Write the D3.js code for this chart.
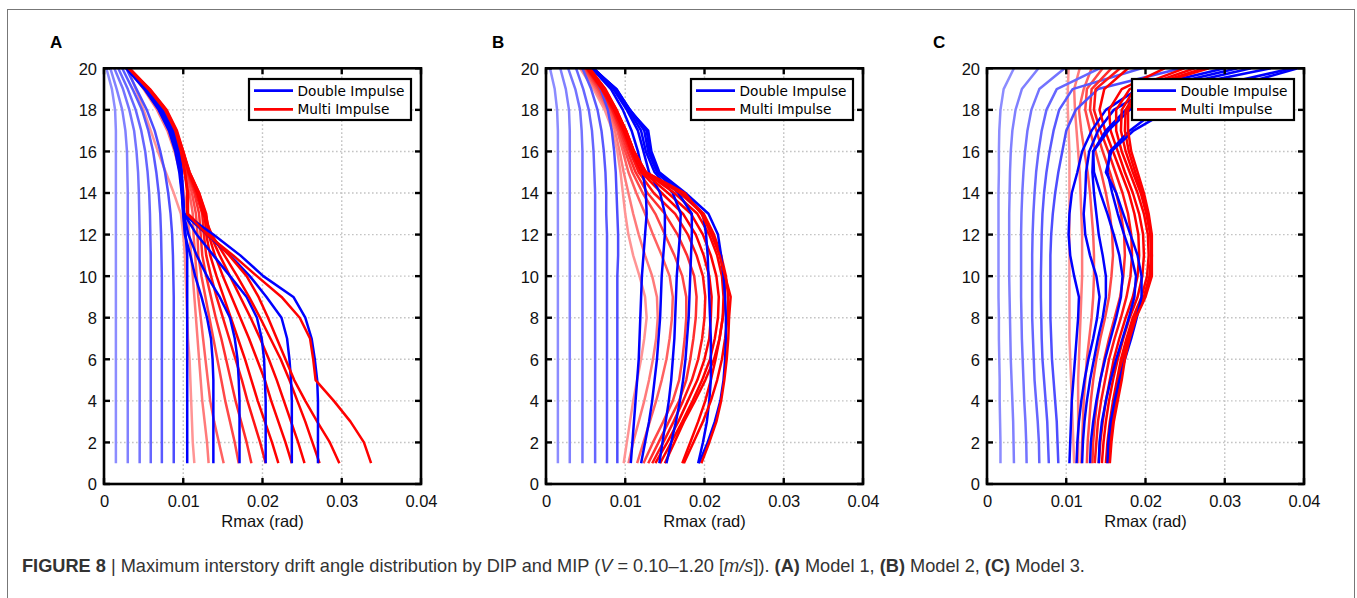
<!DOCTYPE html>
<html>
<head>
<meta charset="utf-8">
<script src="https://cdn.jsdelivr.net/npm/d3@7"></script>
<style>
  body { margin: 0; background: #fff; }
  svg { display: block; }
</style>
</head>
<body>
<svg width="1357" height="598"></svg>
<script>
// drift angles are kept in 1e-3 rad, one value per story (story 1 ... story 20)
const stories = d3.range(1, 21)
const velocities = ['0.10', '0.20', '0.30', '0.40', '0.50', '0.60', '0.70', '0.80', '0.90', '1.00', '1.10', '1.20']
const xTicks = [0, 0.01, 0.02, 0.03, 0.04]
const yTicks = [0, 2, 4, 6, 8, 10, 12, 14, 16, 18, 20]
const seriesNames = ['Double Impulse', 'Multi Impulse']
const panelLetters = ['A', 'B', 'C']

// Model 1
const dipA = [
  [1.5,1.5,1.5,1.5,1.5,1.5,1.5,1.5,1.5,1.5,1.5,1.5,1.5,1.5,1.5,1.5,1.5,1.4,1.0,0.3],
  [3.0,3.0,3.0,3.0,3.0,3.0,3.0,3.0,3.0,3.0,3.0,3.0,3.0,3.0,2.95,2.9,2.7,2.3,1.6,0.8],
  [4.5,4.5,4.5,4.5,4.5,4.5,4.5,4.5,4.5,4.5,4.5,4.5,4.45,4.4,4.3,4.1,3.8,3.2,2.4,1.3],
  [5.9,5.9,5.9,5.9,5.9,5.9,5.9,5.9,5.9,5.9,5.9,5.85,5.8,5.7,5.5,5.2,4.7,4.0,3.0,1.8],
  [7.3,7.3,7.3,7.3,7.3,7.3,7.3,7.3,7.3,7.3,7.25,7.2,7.1,6.9,6.6,6.2,5.6,4.8,3.6,2.3],
  [8.8,8.8,8.8,8.8,8.8,8.8,8.8,8.8,8.8,8.75,8.7,8.6,8.4,8.1,7.7,7.1,6.4,5.4,4.1,2.8],
  [10.5,10.5,10.5,10.5,10.5,10.5,10.5,10.5,10.5,10.5,10.5,10.3,10.0,9.8,9.5,9.0,8.2,6.9,5.1,2.8],
  [13.8,13.8,13.8,13.8,13.8,13.7,13.5,13.0,12.3,11.5,10.9,10.2,10.0,9.85,9.6,9.2,8.4,7.1,5.2,2.9],
  [17.1,17.1,17.1,17.1,17.0,16.85,16.5,15.9,14.6,13.0,11.7,10.65,10.05,9.9,9.7,9.3,8.5,7.2,5.3,2.9],
  [20.4,20.4,20.4,20.4,20.3,20.2,19.9,19.3,18.0,15.9,13.8,11.7,10.1,9.9,9.7,9.4,8.6,7.3,5.3,2.9],
  [23.7,23.7,23.7,23.7,23.6,23.4,23.1,22.4,20.5,18.4,15.9,13.0,10.1,9.95,9.8,9.5,8.7,7.4,5.4,2.9],
  [27.0,27.0,27.0,27.0,26.9,26.6,26.2,25.4,23.9,20.1,17.2,13.8,10.1,9.95,9.8,9.5,8.75,7.5,5.4,2.9]
]
const mipA = [
  [11.4,11.2,11.1,11.0,10.9,10.8,10.6,10.5,10.4,10.3,10.2,10.0,9.7,8.8,7.8,6.8,5.9,5.0,4.0,3.0],
  [13.2,13.0,12.7,12.4,12.2,12.0,11.8,11.6,11.4,11.2,11.0,10.8,10.5,10.1,9.6,8.9,8.0,6.7,5.0,3.0],
  [15.1,14.5,13.9,13.4,13.1,12.8,12.5,12.2,11.9,11.7,11.5,11.3,11.2,10.8,10.1,9.4,8.5,7.2,5.3,3.0],
  [17.0,16.5,15.9,15.3,14.8,14.3,13.8,13.3,12.8,12.3,11.9,11.8,11.6,11.1,10.3,9.6,8.7,7.4,5.4,3.0],
  [18.6,18.0,17.3,16.6,16.0,15.4,14.8,14.1,13.5,12.9,12.4,12.2,12.0,11.4,10.5,9.7,8.8,7.5,5.5,3.1],
  [20.4,19.7,18.9,18.1,17.4,16.6,15.8,15.0,14.2,13.5,12.9,12.6,12.4,11.6,10.6,9.8,8.9,7.6,5.6,3.1],
  [22.0,21.2,20.3,19.4,18.6,17.8,16.9,16.0,15.1,14.2,13.4,12.9,12.7,11.8,10.7,9.9,9.0,7.7,5.6,3.1],
  [23.7,22.9,22.0,21.1,20.3,19.3,18.3,17.2,16.1,15.0,14.0,13.2,12.9,12.0,10.8,9.9,9.1,7.8,5.7,3.2],
  [25.3,24.5,23.6,22.7,21.8,20.8,19.7,18.5,17.2,15.9,14.6,13.4,12.8,12.0,10.8,10.0,9.1,7.8,5.7,3.2],
  [27.2,26.3,25.4,24.4,23.4,22.3,21.0,19.7,18.3,16.8,15.2,13.6,12.5,11.8,10.7,10.0,9.2,7.9,5.8,3.2],
  [29.7,28.5,26.9,25.4,24.0,22.9,21.8,20.7,19.5,18.0,15.8,13.3,10.6,10.6,10.2,9.7,9.0,7.7,5.6,3.1],
  [33.7,32.8,31.1,29.0,26.7,26.4,26.0,24.7,22.4,19.3,16.3,13.0,10.5,10.5,10.2,9.7,9.0,7.7,5.6,3.1]
]

// Model 2
const dipB = [
  [1.5,1.5,1.5,1.5,1.5,1.5,1.5,1.5,1.5,1.5,1.5,1.5,1.5,1.5,1.5,1.5,1.5,1.4,1.1,0.5],
  [3.0,3.0,3.0,3.0,3.0,3.0,3.0,3.0,3.0,3.0,3.0,3.0,3.0,3.0,3.0,3.0,3.0,2.9,2.5,1.8],
  [4.6,4.6,4.6,4.6,4.6,4.6,4.6,4.6,4.6,4.6,4.6,4.6,4.6,4.6,4.6,4.6,4.5,4.3,3.7,2.8],
  [6.2,6.2,6.2,6.2,6.2,6.2,6.2,6.2,6.2,6.2,6.2,6.2,6.2,6.2,6.1,6.0,5.8,5.4,4.7,3.8],
  [7.7,7.7,7.7,7.7,7.7,7.7,7.7,7.7,7.7,7.7,7.7,7.7,7.6,7.6,7.5,7.3,7.0,6.5,5.7,4.6],
  [9.0,9.0,9.0,9.0,9.0,9.0,9.0,9.0,9.0,9.0,9.1,9.1,9.0,8.9,8.8,8.6,8.3,7.8,6.9,5.5],
  [10.7,10.9,11.1,11.3,11.5,11.7,11.8,11.9,12.0,12.1,12.3,12.5,12.7,12.6,12.2,11.6,10.8,9.7,8.2,5.8],
  [12.0,12.5,13.0,13.4,13.7,14.0,14.2,14.4,14.5,14.6,14.8,15.0,15.0,14.4,13.0,12.3,11.6,10.2,8.5,6.0],
  [14.3,14.7,15.1,15.5,15.8,16.0,16.2,16.3,16.4,16.5,16.7,16.9,17.0,16.0,13.7,12.6,12.0,10.4,8.7,6.0],
  [15.2,15.8,16.4,16.9,17.3,17.6,17.8,18.0,18.1,18.2,18.3,18.4,18.4,16.7,14.0,12.9,12.4,10.6,8.8,6.0],
  [19.2,19.8,20.3,20.6,20.8,20.8,20.8,20.7,20.6,20.5,20.4,20.2,19.8,17.3,14.2,13.1,12.7,10.6,8.9,5.9],
  [19.3,20.4,21.3,22.0,22.4,22.6,22.7,22.7,22.6,22.4,22.1,21.7,20.5,17.6,14.3,13.3,12.9,10.5,8.9,5.8]
]
const mipB = [
  [9.8,10.2,10.6,11.0,11.5,12.0,12.4,12.7,12.5,11.8,11.0,10.4,10.0,9.7,9.4,9.0,8.4,7.4,6.0,4.3],
  [10.4,11.0,11.7,12.4,13.0,13.5,13.9,14.1,14.0,13.4,12.5,11.7,11.0,10.4,9.8,9.3,8.7,7.7,6.2,4.5],
  [11.5,12.3,13.1,13.9,14.6,15.2,15.6,15.9,16.0,15.6,14.6,13.5,12.5,11.4,10.4,9.7,9.0,7.9,6.4,4.6],
  [12.3,13.5,14.8,16.0,16.8,17.2,17.5,17.7,17.7,17.2,16.2,15.0,13.8,12.2,10.9,10.0,9.2,8.1,6.6,4.8],
  [12.9,14.2,15.5,16.8,17.7,18.2,18.6,18.9,19.0,18.7,17.8,16.6,15.0,12.8,11.3,10.3,9.4,8.3,6.8,5.0],
  [13.4,14.8,16.1,17.3,18.4,19.2,19.7,20.0,20.1,19.8,19.0,17.9,16.3,13.6,11.7,10.6,9.6,8.4,7.0,5.1],
  [13.8,15.3,16.7,17.9,19.1,20.0,20.6,20.8,20.9,20.6,19.9,18.9,17.3,14.6,12.0,10.8,9.8,8.6,7.1,5.2],
  [14.4,15.8,17.2,18.5,19.7,20.7,21.3,21.7,21.8,21.5,20.8,19.8,18.3,15.4,12.3,11.0,10.0,8.7,7.2,5.3],
  [15.0,16.2,17.4,18.8,20.1,21.2,21.9,22.3,22.4,22.2,21.6,20.6,19.1,16.2,12.5,11.1,10.1,8.8,7.3,5.4],
  [17.2,18.2,19.2,20.1,20.8,21.4,21.9,22.3,22.6,22.5,22.0,21.1,19.8,16.9,12.6,11.1,10.1,8.8,7.4,5.4],
  [17.4,18.6,19.8,20.8,21.6,22.2,22.6,22.9,23.0,22.7,22.1,21.2,19.9,17.3,12.6,11.1,10.1,8.9,7.4,5.5],
  [19.6,20.6,21.5,22.1,22.5,22.8,23.0,23.1,23.3,22.6,21.9,20.9,19.6,17.5,12.6,11.0,10.0,8.9,7.5,5.5]
]

// Model 3
const dipC = [
  [1.7,1.7,1.65,1.6,1.6,1.55,1.5,1.5,1.45,1.45,1.45,1.45,1.45,1.45,1.5,1.5,1.55,1.7,2.1,3.4],
  [3.4,3.35,3.3,3.2,3.1,3.0,2.95,2.9,2.85,2.8,2.8,2.8,2.8,2.85,2.9,3.0,3.2,3.6,4.4,6.5],
  [5.0,4.95,4.85,4.7,4.6,4.5,4.4,4.35,4.3,4.3,4.3,4.3,4.35,4.45,4.6,4.8,5.1,5.6,6.6,9.8],
  [6.6,6.55,6.4,6.2,6.0,5.9,5.8,5.7,5.7,5.7,5.7,5.75,5.85,6.0,6.2,6.5,6.9,7.5,8.8,14.2],
  [7.8,7.7,7.6,7.4,7.2,7.0,6.9,6.85,6.8,6.8,6.85,6.9,7.0,7.2,7.5,7.9,8.4,9.1,10.8,19.5],
  [9.0,8.9,8.8,8.6,8.4,8.2,8.1,8.0,8.0,8.0,8.0,8.1,8.3,8.6,9.0,9.5,10.0,11.2,14.0,24.5],
  [10.4,10.5,10.6,10.7,10.9,11.1,11.3,11.5,11.6,11.0,10.5,10.3,10.4,10.7,11.4,12.0,13.2,15.0,19.0,30.0],
  [11.3,11.4,11.6,11.9,12.3,12.8,13.4,13.9,14.2,13.8,13.0,12.4,12.2,12.4,12.5,12.9,14.0,16.0,20.5,31.6],
  [12.0,12.1,12.3,12.6,13.0,13.5,14.0,14.6,15.0,15.0,14.6,14.1,13.8,13.5,13.3,13.4,15.0,17.5,22.0,33.3],
  [13.0,13.1,13.4,13.8,14.3,14.9,15.6,16.3,16.9,17.1,16.7,16.0,15.2,14.3,13.5,13.4,15.3,18.0,23.0,35.8],
  [14.1,14.2,14.5,15.0,15.6,16.3,17.1,17.9,18.6,18.8,18.2,17.3,16.5,15.8,15.2,15.5,18.0,21.5,27.0,38.5],
  [15.2,15.3,15.6,16.1,16.7,17.4,18.2,18.9,19.5,19.5,19.0,18.1,17.2,16.3,15.0,15.7,18.5,23.0,30.0,39.2]
]
const mipC = [
  [11.0,10.9,10.8,10.7,10.6,10.5,10.4,10.4,10.4,10.4,10.4,10.4,10.4,10.4,10.4,10.4,10.3,10.2,10.2,10.3],
  [11.5,11.5,11.5,11.5,11.5,11.6,11.7,11.8,11.9,12.0,12.0,12.0,11.9,11.8,11.7,11.5,11.3,11.1,11.0,11.7],
  [11.9,12.0,12.1,12.2,12.4,12.6,12.9,13.2,13.4,13.5,13.5,13.4,13.2,13.0,12.7,12.3,11.9,11.6,12.2,13.2],
  [12.6,12.7,12.9,13.1,13.4,13.8,14.3,14.9,15.4,15.7,15.9,15.8,15.5,15.0,14.4,13.7,13.0,12.4,12.6,14.6],
  [13.3,13.4,13.6,13.9,14.3,14.8,15.4,16.1,16.8,17.2,17.4,17.3,16.9,16.3,15.5,14.6,13.8,13.0,13.2,15.7],
  [13.6,13.8,14.0,14.4,14.9,15.4,16.1,16.9,17.6,18.1,18.3,18.2,17.8,17.1,16.2,15.3,14.3,13.5,13.7,16.8],
  [14.1,14.3,14.6,15.0,15.5,16.0,16.7,17.5,18.4,19.0,19.2,19.1,18.6,17.9,16.9,15.9,14.9,14.2,14.8,17.8],
  [14.5,14.7,15.0,15.4,15.9,16.5,17.2,18.0,19.0,19.6,19.8,19.7,19.2,18.4,17.4,16.5,15.6,15.4,17.0,22.4],
  [15.0,15.2,15.5,15.9,16.4,16.9,17.6,18.4,19.5,20.2,20.4,20.3,19.8,19.0,18.0,17.0,16.3,16.3,18.0,24.9],
  [15.2,15.4,15.7,16.1,16.6,17.1,17.8,18.6,19.8,20.5,20.7,20.6,20.1,19.4,18.4,17.5,16.9,17.0,18.6,26.2],
  [15.4,15.6,15.9,16.3,16.8,17.3,17.9,18.7,19.9,20.7,20.8,20.7,20.3,19.6,18.7,17.9,17.4,17.5,19.0,27.4],
  [15.5,15.7,16.0,16.5,17.0,17.4,18.0,18.8,20.0,20.8,20.8,20.8,20.4,19.8,19.0,18.2,17.8,17.8,19.3,28.0]
]

const panels = [
  { letter: panelLetters[0], dip: dipA, mip: mipA },
  { letter: panelLetters[1], dip: dipB, mip: mipB },
  { letter: panelLetters[2], dip: dipC, mip: mipC }
]

const svg = d3.select('svg')
const font = '"Liberation Sans", Arial, sans-serif'

// outer figure frame
svg.append('rect')
  .attr('x', 7.5).attr('y', 9.5)
  .attr('width', 1347).attr('height', 640)
  .attr('fill', 'none').attr('stroke', '#777').attr('stroke-width', 1)

const plotLeft = [104, 546, 987]
const plotTop = 68.3
const width = 317
const height = 415.7

const blueTint = i => i < 6 ? 0.45 + 0.05 * i : 1
const redTint = i => Math.min(1, 0.42 + 0.1 * i)
const blueColor = i => d3.interpolateRgb('#ffffff', '#0000ff')(blueTint(i))
const redColor = i => d3.interpolateRgb('#ffffff', '#ff0000')(redTint(i))

panels.forEach((p, k) => {
  const g = svg.append('g').attr('transform', 'translate(' + plotLeft[k] + ',' + plotTop + ')')

  const x = d3.scaleLinear().domain([0, 0.04]).range([0, width])
  const y = d3.scaleLinear().domain([0, 20]).range([height, 0])

  // panel letter
  svg.append('text')
    .attr('x', plotLeft[k] - 54)
    .attr('y', 47.5)
    .attr('font-family', 'Arial, "Liberation Sans", sans-serif')
    .attr('font-weight', 'bold')
    .attr('font-size', 17)
    .text(p.letter)

  // dotted grid
  const grid = g.append('g')
  grid.selectAll('line.vx')
    .data(xTicks.slice(1, -1))
    .enter().append('line')
      .attr('x1', d => x(d)).attr('x2', d => x(d))
      .attr('y1', 0).attr('y2', height)
  grid.selectAll('line.hy')
    .data(yTicks.slice(1, -1))
    .enter().append('line')
      .attr('x1', 0).attr('x2', width)
      .attr('y1', d => y(d)).attr('y2', d => y(d))
  grid.selectAll('line')
    .attr('stroke', '#c4c4c4')
    .attr('stroke-width', 1.4)
    .attr('stroke-dasharray', '1.6 2.4')

  // curves, drawn velocity by velocity
  const line = d3.line()
    .x(d => x(d / 1000))
    .y((d, i) => y(stories[i]))

  const curves = g.append('g').attr('fill', 'none').attr('stroke-width', 2.5)
    .attr('stroke-linejoin', 'round')
  velocities.forEach((v, i) => {
    curves.append('path').datum(p.dip[i]).attr('d', line).attr('stroke', blueColor(i))
    curves.append('path').datum(p.mip[i]).attr('d', line).attr('stroke', redColor(i))
  })

  // axes
  const xAxis = g.append('g')
    .attr('transform', 'translate(0,' + height + ')')
    .call(d3.axisBottom(x).tickValues(xTicks).tickSize(0).tickPadding(11)
      .tickFormat(d => d === 0 ? '0' : d3.format('.2f')(d)))
  const yAxis = g.append('g')
    .call(d3.axisLeft(y).tickValues(yTicks).tickSize(0).tickPadding(7))
  ;[xAxis, yAxis].forEach(a => {
    a.select('.domain').remove()
    a.selectAll('text')
      .attr('font-family', font)
      .attr('font-size', 16.5)
      .attr('fill', '#111')
  })
  yAxis.selectAll('text').attr('dy', '0.36em')

  // inward ticks on all four sides
  const ticks = g.append('g').attr('stroke', '#000').attr('stroke-width', 2.4)
  xTicks.forEach(t => {
    ticks.append('line').attr('x1', x(t)).attr('x2', x(t)).attr('y1', height).attr('y2', height - 6)
    ticks.append('line').attr('x1', x(t)).attr('x2', x(t)).attr('y1', 0).attr('y2', 6)
  })
  yTicks.forEach(t => {
    ticks.append('line').attr('x1', 0).attr('x2', 6).attr('y1', y(t)).attr('y2', y(t))
    ticks.append('line').attr('x1', width).attr('x2', width - 6).attr('y1', y(t)).attr('y2', y(t))
  })

  g.append('rect')
    .attr('width', width).attr('height', height)
    .attr('fill', 'none').attr('stroke', '#000').attr('stroke-width', 2.6)

  g.append('text')
    .attr('x', width / 2)
    .attr('y', height + 43)
    .attr('text-anchor', 'middle')
    .attr('font-family', font)
    .attr('font-size', 16.5)
    .attr('fill', '#111')
    .text('Rmax (rad)')

  // legend
  const legend = g.append('g').attr('transform', 'translate(145,' + (79 - plotTop) + ')')
  legend.append('rect')
    .attr('width', 162).attr('height', 41)
    .attr('fill', '#fff').attr('stroke', '#000').attr('stroke-width', 2.2)
  seriesNames.forEach((name, i) => {
    const ly = 11.7 + i * 18.6
    legend.append('line')
      .attr('x1', 5).attr('x2', 44).attr('y1', ly).attr('y2', ly)
      .attr('stroke', i === 0 ? '#0000ff' : '#ff0000').attr('stroke-width', 2.8)
    legend.append('text')
      .attr('x', 48.5).attr('y', ly).attr('dy', '0.36em')
      .attr('font-family', '"DejaVu Sans", sans-serif')
      .attr('font-size', 13.7)
      .attr('fill', '#000')
      .text(name)
  })
})

// caption
const caption = svg.append('text')
  .attr('x', 22).attr('y', 572)
  .attr('font-family', font)
  .attr('font-size', 15)
  .attr('fill', '#333')
const parts = [
  ['FIGURE 8', 'bold', 'normal'],
  [' | Maximum interstory drift angle distribution by DIP and MIP (', 'normal', 'normal'],
  ['V', 'normal', 'italic'],
  [' = 0.10\u20131.20 [', 'normal', 'normal'],
  ['m/s', 'normal', 'italic'],
  [']). ', 'normal', 'normal'],
  ['(A)', 'bold', 'normal'],
  [' Model 1, ', 'normal', 'normal'],
  ['(B)', 'bold', 'normal'],
  [' Model 2, ', 'normal', 'normal'],
  ['(C)', 'bold', 'normal'],
  [' Model 3.', 'normal', 'normal']
]
parts.forEach(([t, w, s]) => {
  caption.append('tspan').attr('font-weight', w).attr('font-style', s).text(t)
})
const capLen = caption.node().getComputedTextLength()
caption.attr('font-size', 15 * 1064 / capLen)
</script>
</body>
</html>
